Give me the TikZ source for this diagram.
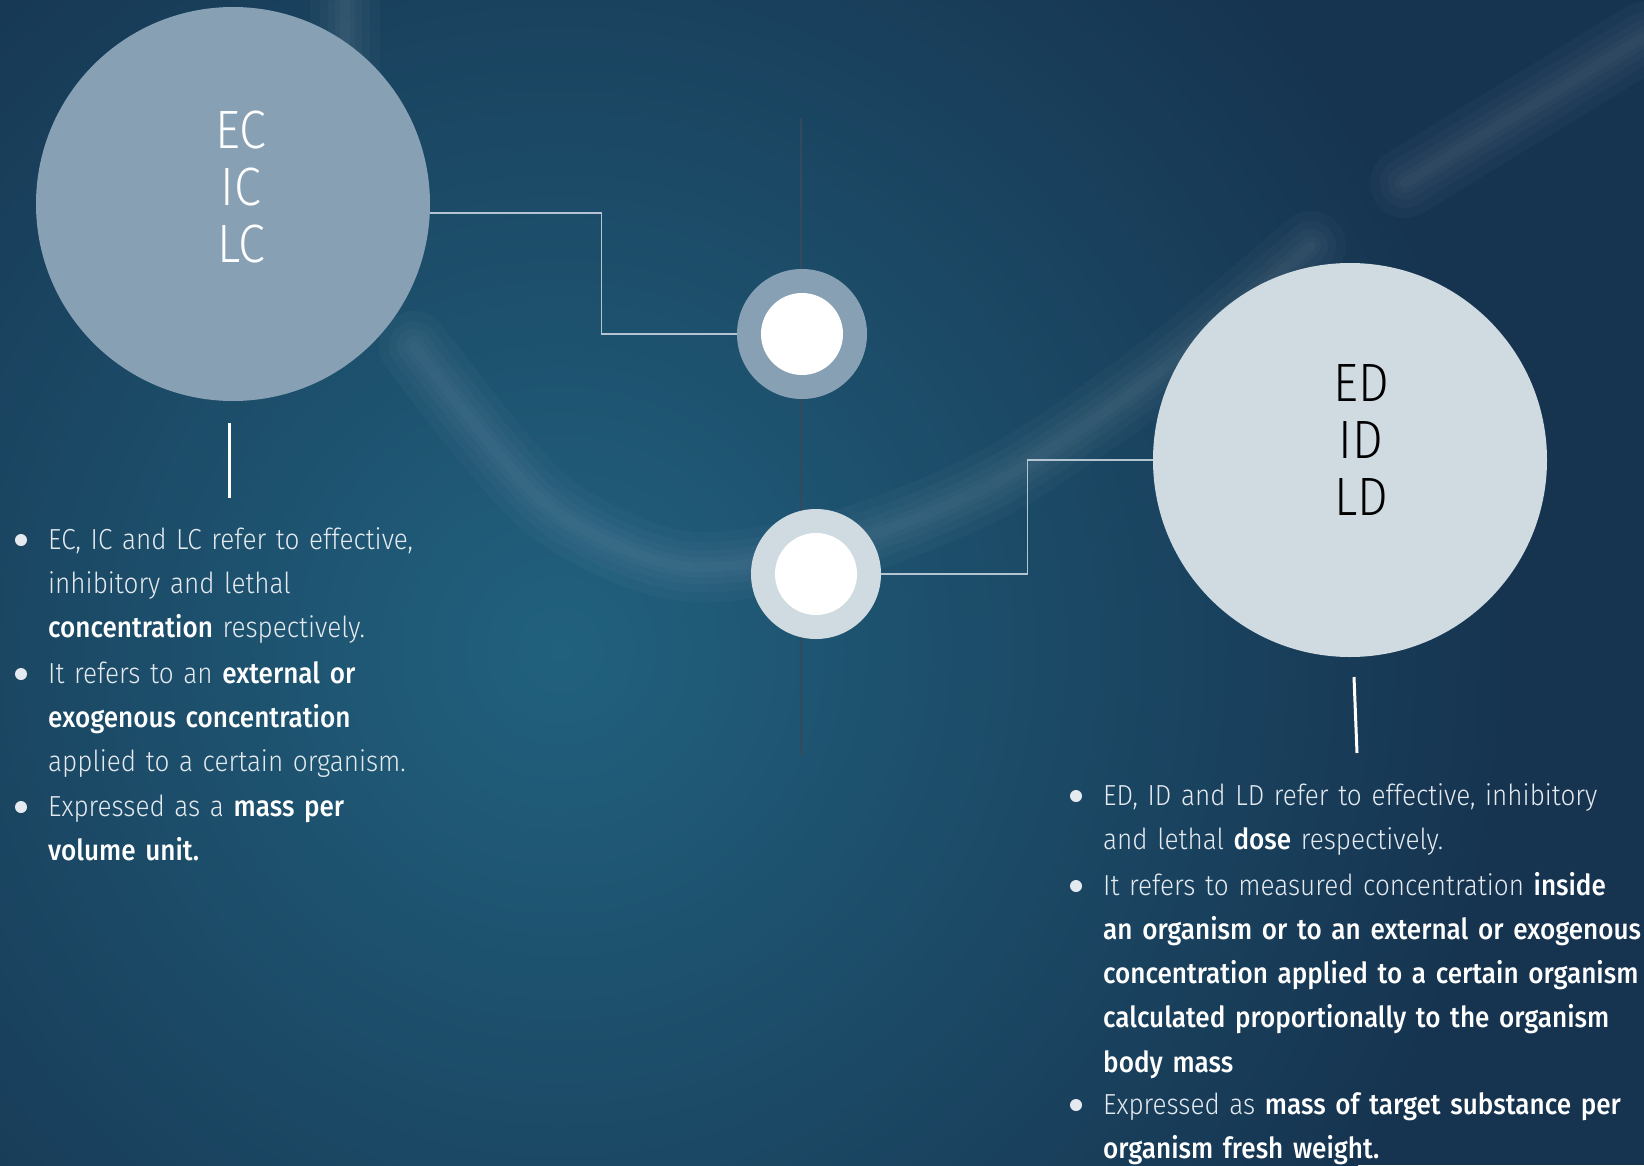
\documentclass[tikz,border=0pt]{standalone}
\usepackage{fontspec}
\setmainfont{Fira Sans Light}[BoldFont={Fira Sans Medium},FakeStretch=0.9]
\definecolor{bgA}{HTML}{163450}
\definecolor{bgB}{HTML}{21617E}
\definecolor{cA}{HTML}{87A0B3}
\definecolor{cB}{HTML}{CFDAE1}
\definecolor{connc}{HTML}{B4C4D0}
\definecolor{vlinec}{HTML}{34495C}
\definecolor{txt}{HTML}{E4EAEF}
\tikzset{
  bigc/.style={circle, minimum size=394pt, inner sep=0pt, draw=none},
  ringc/.style={circle, minimum size=130pt, inner sep=0pt, draw=none},
  dotc/.style={circle, minimum size=82pt, inner sep=0pt, fill=white, draw=none},
  conn/.style={draw=connc, line width=1.4pt},
  tick/.style={draw=white, line width=3pt},
  bigtxt/.style={font=\fontsize{54}{57}\selectfont, align=center, inner sep=0pt},
  body/.style={font=\fontsize{29}{44.3}\selectfont, text=txt, anchor=base west, inner sep=0pt, align=left},
  bul/.style={circle, fill=txt, minimum size=12pt, inner sep=0pt, draw=none},
  glow/.style={white, line cap=round, opacity=0.025}
}
\begin{document}
\begin{tikzpicture}[x=1pt,y=-1pt]
\useasboundingbox (0,0) rectangle (1644,1165);
\clip (0,0) rectangle (1644,1165);
\fill[bgA] (0,0) rectangle (1644,1165);
\shade[inner color=bgB, outer color=bgA] (560,650) circle[radius=950pt];
% faint glow arcs
\foreach \w in {70,50,34,20,10}{
  \draw[glow, line width=\w pt] plot[smooth] coordinates {(414,346) (545,503) (682,566) (839,545) (996,482) (1153,377) (1311,246)};
  \draw[glow, line width=\w pt] (1405,183) -- (1644,37);
  \draw[glow, line width=\w pt] (345,-20) -- (345,120);
}
% vertical axis line
\draw[vlinec, line width=1.2pt] (801,118) -- (801,755);
% big circles
\node[bigc, fill=cA] (lc) at (233,204) {};
\node[bigtxt, text=white] (lct) at (241,187) {EC\\IC\\LC};
\node[bigc, fill=cB] (rc) at (1350,460) {};
\node[bigtxt, text=black] (rct) at (1361,440) {ED\\ID\\LD};
% small ring circles
\node[ringc, fill=cA] (s1) at (802,334) {};
\node[dotc] (s1i) at (s1) {};
\node[ringc, fill=cB] (s2) at (816,574) {};
\node[dotc] (s2i) at (s2) {};
% connectors
\draw[conn] ([yshift=-9pt]lc.east) -- ++(171,0) |- (s1.west);
\draw[conn] (s2.east) -- ++(146,0) |- (rc.west);
% ticks
\coordinate (lt1) at (229,423);
\coordinate (lt2) at (229,498);
\coordinate (rt1) at (1354,677);
\coordinate (rt2) at (1357,753);
\draw[tick] (lt1) -- (lt2);
\draw[tick] (rt1) -- (rt2);
% left bullets
\node[bul] (lb1) at (21,540) {};
\node[bul] (lb2) at (21,674) {};
\node[bul] (lb3) at (21,807) {};
\node[body, text width=480pt] (lx1) at (48,549) {EC, IC and LC refer to effective,\\inhibitory and lethal\\\textbf{\color{white}concentration} respectively.};
\node[body, text width=480pt] (lx2) at (48,683) {It refers to an \textbf{\color{white}external or}\\\textbf{\color{white}exogenous concentration}\\applied to a certain organism.};
\node[body, text width=480pt] (lx3) at (48,816) {Expressed as a \textbf{\color{white}mass per}\\\textbf{\color{white}volume unit.}};
% right bullets
\node[bul] (rb1) at (1076,796) {};
\node[bul] (rb2) at (1076,886) {};
\node[bul] (rb3) at (1076,1105) {};
\node[body, text width=600pt] (rx1) at (1103,805) {ED, ID and LD refer to effective, inhibitory\\and lethal \textbf{\color{white}dose} respectively.};
\node[body, text width=600pt] (rx2) at (1103,895) {It refers to measured concentration \textbf{\color{white}inside}\\\textbf{\color{white}an organism or to an external or exogenous}\\\textbf{\color{white}concentration applied to a certain organism}\\\textbf{\color{white}calculated proportionally to the organism}\\\textbf{\color{white}body mass}};
\node[body, text width=600pt] (rx3) at (1103,1114) {Expressed as \textbf{\color{white}mass of target substance per}\\\textbf{\color{white}organism fresh weight.}};
\end{tikzpicture}
\end{document}
